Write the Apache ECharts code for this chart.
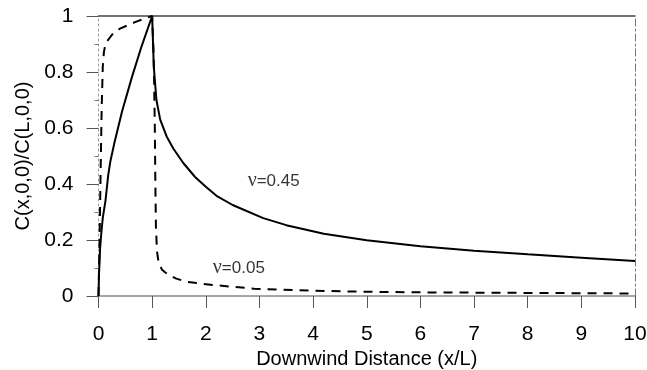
<!DOCTYPE html>
<html>
<head>
<meta charset="utf-8">
<script src="https://cdn.jsdelivr.net/npm/echarts@6/dist/echarts.min.js"></script>
<style>
  html, body { margin: 0; padding: 0; background: #fff; }
  #chart { width: 647px; height: 370px; }
</style>
</head>
<body>
<div id="chart"></div>
<script>
// nu = 0.45 (solid)
const xSolid = [0, 0.01, 0.03, 0.05, 0.08, 0.13, 0.18, 0.22, 0.3, 0.44, 0.62, 0.8, 1.0,
  1.03, 1.08, 1.15, 1.27, 1.4, 1.58, 1.8, 2.0, 2.2, 2.5, 3.07, 3.5, 4.2, 5, 6, 7, 8, 9, 10];
const ySolid = [0, 0.08, 0.17, 0.22, 0.28, 0.34, 0.43, 0.48, 0.55, 0.66, 0.78, 0.89, 1.0,
  0.82, 0.70, 0.63, 0.57, 0.525, 0.475, 0.425, 0.39, 0.358, 0.325, 0.278, 0.253, 0.222, 0.199, 0.178, 0.162, 0.149, 0.137, 0.125];

// nu = 0.05 (dashed)
const xDashed = [0, 0.02, 0.04, 0.06, 0.08, 0.1, 0.13, 0.16, 0.22, 0.28, 0.4, 0.56, 0.68, 0.85, 1.0,
  1.03, 1.05, 1.06, 1.07, 1.09, 1.12, 1.18, 1.24, 1.29, 1.45, 1.66, 2.15, 2.9, 3.96, 5, 6, 7, 8, 9, 10];
const yDashed = [0, 0.2, 0.45, 0.68, 0.82, 0.87, 0.9, 0.91, 0.925, 0.94, 0.955, 0.968, 0.978, 0.99, 1.0,
  0.85, 0.6, 0.4, 0.25, 0.16, 0.12, 0.095, 0.085, 0.078, 0.062, 0.05, 0.039, 0.026, 0.019, 0.015, 0.013, 0.012, 0.011, 0.01, 0.009];

const xTicks = [0, 1, 2, 3, 4, 5, 6, 7, 8, 9, 10];
const yTicks = [0, 0.2, 0.4, 0.6, 0.8, 1];

// curve labels: [x, y, nu text]
const curveLabels = [
  [2.78, 0.41, '0.45'],
  [2.13, 0.10, '0.05'],
];

const font = '"Liberation Sans", Arial, sans-serif';
const zip = (xs, ys) => xs.map((x, i) => [x, ys[i]]);

const chart = echarts.init(document.getElementById('chart'));
chart.setOption({
  animation: false,
  backgroundColor: '#ffffff',
  grid: { left: 98.5, right: 12, top: 16, bottom: 74, containLabel: false, outerBoundsMode: 'none' },
  xAxis: [
    {
      type: 'value',
      min: xTicks[0],
      max: xTicks[xTicks.length - 1],
      interval: 1,
      name: 'Downwind Distance (x/L)',
      nameLocation: 'middle',
      nameGap: 46,
      nameTextStyle: { fontFamily: font, fontSize: 20, color: '#000' },
      axisLine: { lineStyle: { color: '#888', width: 1.5 } },
      axisTick: { length: 12, lineStyle: { color: '#555' } },
      axisLabel: { margin: 28, fontFamily: font, fontSize: 21, color: '#000' },
      splitLine: { show: false },
    },
    {
      type: 'value',
      position: 'top',
      min: 0,
      max: 10,
      axisLine: { show: true, onZero: false, lineStyle: { color: '#444', width: 1.5 } },
      axisTick: { show: false },
      axisLabel: { show: false },
      splitLine: { show: false },
    },
  ],
  yAxis: [
    {
      type: 'value',
      min: yTicks[0],
      max: yTicks[yTicks.length - 1],
      interval: 0.2,
      name: 'C(x,0,0)/C(L,0,0)',
      nameLocation: 'middle',
      nameGap: 65,
      nameTextStyle: { fontFamily: font, fontSize: 20, color: '#000' },
      axisLine: { show: true, onZero: false, lineStyle: { color: '#999', type: [2, 3] } },
      axisTick: { show: true, length: 12, lineStyle: { color: '#555' } },
      minorTick: { show: true, splitNumber: 2, length: 4, lineStyle: { color: '#777' } },
      axisLabel: {
        margin: 25, fontFamily: font, fontSize: 21, color: '#000',
        formatter: (v) => String(Math.round(v * 10) / 10),
      },
      splitLine: { show: false },
    },
    {
      type: 'value',
      position: 'right',
      min: 0,
      max: 1,
      axisLine: { show: true, onZero: false, lineStyle: { color: '#777', type: [7, 3, 2, 3] } },
      axisTick: { show: false },
      axisLabel: { show: false },
      splitLine: { show: false },
    },
  ],
  series: [
    {
      name: 'nu=0.45',
      type: 'line',
      data: zip(xSolid, ySolid),
      showSymbol: false,
      smooth: false,
      lineStyle: { color: '#000', width: 2 },
    },
    {
      name: 'nu=0.05',
      type: 'line',
      data: zip(xDashed, yDashed),
      showSymbol: false,
      smooth: false,
      lineStyle: { color: '#000', width: 2, type: [9, 7] },
    },
    {
      type: 'scatter',
      symbolSize: 0,
      silent: true,
      data: curveLabels.map((d) => ({ value: [d[0], d[1]], txt: d[2] })),
      label: {
        show: true,
        position: 'right',
        distance: 0,
        formatter: (p) => '{nu|\u03bd}{t|=' + p.data.txt + '}',
        rich: {
          nu: { fontFamily: '"Liberation Serif", "Times New Roman", serif', fontSize: 20, color: '#000' },
          t: { fontFamily: font, fontSize: 17, color: '#000' },
        },
      },
    },
  ],
});
</script>
</body>
</html>
